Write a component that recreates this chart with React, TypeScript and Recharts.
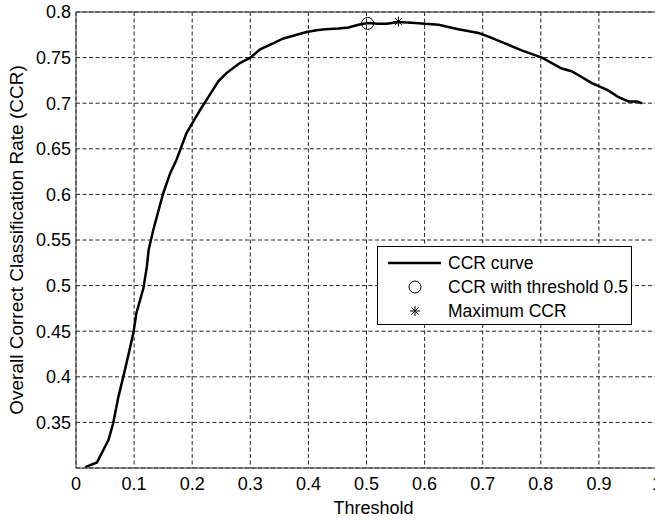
import React from 'react'
import {
  ComposedChart,
  Line,
  Scatter,
  XAxis,
  YAxis,
  CartesianGrid,
  Legend,
  ReferenceLine,
} from 'recharts'

// threshold values along the curve
const thresholds = [
  0.016, 0.036, 0.056, 0.064, 0.073, 0.084, 0.092, 0.099, 0.104, 0.116,
  0.122, 0.125, 0.133, 0.150, 0.162, 0.173, 0.190, 0.202, 0.213, 0.228,
  0.245, 0.259, 0.282, 0.300, 0.317, 0.340, 0.357, 0.380, 0.397, 0.414,
  0.429, 0.452, 0.469, 0.486, 0.503, 0.520, 0.535, 0.555, 0.584, 0.601,
  0.624, 0.658, 0.693, 0.710, 0.733, 0.767, 0.802, 0.836, 0.853, 0.888,
  0.916, 0.933, 0.951, 0.965, 0.974,
]

// CCR at each threshold
const ccrValues = [
  0.301, 0.306, 0.331, 0.349, 0.378, 0.407, 0.429, 0.449, 0.470, 0.497,
  0.521, 0.539, 0.561, 0.601, 0.623, 0.638, 0.667, 0.680, 0.692, 0.707,
  0.724, 0.733, 0.744, 0.750, 0.759, 0.766, 0.771, 0.775, 0.778, 0.780,
  0.781, 0.782, 0.783, 0.786, 0.788, 0.787, 0.787, 0.789, 0.788, 0.787,
  0.786, 0.781, 0.777, 0.773, 0.767, 0.758, 0.750, 0.738, 0.735, 0.722,
  0.714, 0.707, 0.702, 0.702, 0.700,
]

const thresholdPoint = [{ t: 0.502, ccr: 0.7875 }]
const maxPoint = [{ t: 0.555, ccr: 0.7895 }]

const xTicks = [0, 0.1, 0.2, 0.3, 0.4, 0.5, 0.6, 0.7, 0.8, 0.9, 1]
const yTicks = [0.35, 0.4, 0.45, 0.5, 0.55, 0.6, 0.65, 0.7, 0.75, 0.8]

const curve = thresholds.map((t, i) => ({ t, ccr: ccrValues[i] }))

const FONT = '"Liberation Sans", Arial, Helvetica, sans-serif'

const CircleMark = (props: any) => (
  <circle cx={props.cx} cy={props.cy} r={6} fill="none" stroke="#000" strokeWidth={1} />
)

const StarMark = (props: any) => {
  const { cx, cy } = props
  const r = 5
  const d = 3.5
  return (
    <g stroke="#000" strokeWidth={1}>
      <line x1={cx - r} y1={cy} x2={cx + r} y2={cy} />
      <line x1={cx} y1={cy - r} x2={cx} y2={cy + r} />
      <line x1={cx - d} y1={cy - d} x2={cx + d} y2={cy + d} />
      <line x1={cx - d} y1={cy + d} x2={cx + d} y2={cy - d} />
    </g>
  )
}

const YLabel = (props: any) => {
  const vb = props.viewBox || { x: 0, y: 0, height: 0 }
  const x = vb.x + 16
  const y = vb.y + vb.height / 2
  return (
    <text
      x={x}
      y={y}
      transform={`rotate(-90 ${x} ${y})`}
      textAnchor="middle"
      dominantBaseline="central"
      fontSize={19}
      fontFamily={FONT}
      fill="#000"
    >
      Overall Correct Classification Rate (CCR)
    </text>
  )
}

const XLabel = (props: any) => {
  const vb = props.viewBox || { x: 0, y: 0, width: 0, height: 0 }
  return (
    <text
      x={vb.x + vb.width / 2 + 7}
      y={vb.y + vb.height - 6}
      textAnchor="middle"
      fontSize={18}
      fontFamily={FONT}
      fill="#000"
    >
      Threshold
    </text>
  )
}

const legendRows = [
  { kind: 'line', text: 'CCR curve' },
  { kind: 'circle', text: 'CCR with threshold 0.5' },
  { kind: 'star', text: 'Maximum CCR' },
]

const LegendBox = () => (
  <div
    style={{
      width: 253,
      height: 73,
      border: '1px solid #000',
      background: '#fff',
      paddingTop: 4,
      boxSizing: 'content-box',
      fontFamily: FONT,
      fontSize: 17.5,
      color: '#000',
    }}
  >
    {legendRows.map(row => (
      <div key={row.text} style={{ display: 'flex', alignItems: 'center', height: 24 }}>
        <svg width={64} height={24}>
          {row.kind === 'line' && (
            <line x1={10} y1={12} x2={63} y2={12} stroke="#000" strokeWidth={2.5} />
          )}
          {row.kind === 'circle' && <CircleMark cx={37} cy={12} />}
          {row.kind === 'star' && <StarMark cx={37} cy={12} />}
        </svg>
        <span style={{ marginLeft: 6, whiteSpace: 'nowrap' }}>{row.text}</span>
      </div>
    ))}
  </div>
)

export default function App() {
  return (
    <div
      style={{
        position: 'absolute',
        left: 0,
        top: 0,
        width: 655,
        height: 520,
        overflow: 'hidden',
        background: '#fff',
      }}
    >
      <ComposedChart
        width={680}
        height={520}
        data={curve}
        margin={{ top: 12, right: 23, bottom: 0, left: 0 }}
      >
        <CartesianGrid stroke="#222" strokeDasharray="4 2.5" />
        <XAxis
          dataKey="t"
          type="number"
          domain={[0, 1]}
          ticks={xTicks}
          tickFormatter={v => String(v)}
          height={52}
          axisLine={{ stroke: '#333' }}
          tickLine={false}
          tickSize={5}
          tickMargin={4}
          tick={{ fill: '#000', fontSize: 18, fontFamily: FONT }}
          label={<XLabel />}
        />
        <YAxis
          type="number"
          domain={[0.3, 0.8]}
          ticks={yTicks}
          allowDataOverflow
          width={76}
          axisLine={{ stroke: '#333' }}
          tickLine={false}
          tickSize={5}
          tickMargin={0}
          tick={{ fill: '#000', fontSize: 18, fontFamily: FONT }}
          label={<YLabel />}
        />
        <ReferenceLine y={0.8} stroke="#333" />
        <ReferenceLine x={1} stroke="#333" />
        <Line
          dataKey="ccr"
          type="linear"
          stroke="#000"
          strokeWidth={2.5}
          dot={false}
          activeDot={false}
          isAnimationActive={false}
        />
        <Scatter data={thresholdPoint} dataKey="ccr" shape={CircleMark} isAnimationActive={false} />
        <Scatter data={maxPoint} dataKey="ccr" shape={StarMark} isAnimationActive={false} />
        <Legend
          layout="vertical"
          align="center"
          verticalAlign="middle"
          content={<LegendBox />}
          wrapperStyle={{ left: 377, top: 246, width: 255, height: 79, margin: 0 }}
        />
      </ComposedChart>
    </div>
  )
}
